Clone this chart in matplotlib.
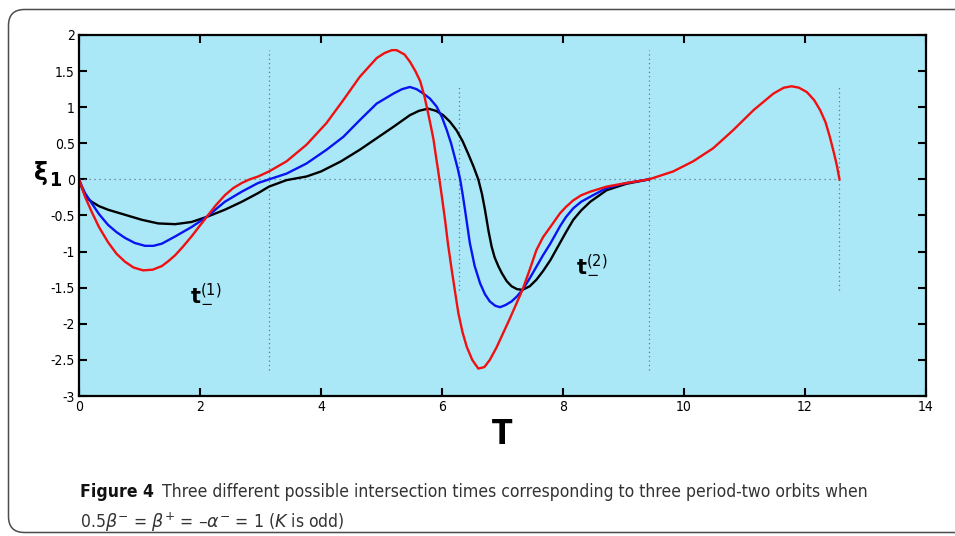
import numpy as np
import matplotlib
matplotlib.use("Agg")
import matplotlib.pyplot as plt
from matplotlib.patches import FancyBboxPatch

# curves read along T for the three period-two orbits
red_t = [0.00, 0.05, 0.10, 0.21, 0.33, 0.48, 0.62, 0.76, 0.90, 1.06, 1.22, 1.37,
         1.48, 1.59, 1.72, 1.86, 1.98, 2.11, 2.26, 2.41, 2.55, 2.69, 2.82, 2.96,
         3.14, 3.43, 3.76, 4.09, 4.37, 4.64, 4.92, 5.05, 5.17, 5.25, 5.38, 5.47,
         5.56, 5.64, 5.71, 5.77, 5.82, 5.86, 5.90, 5.94, 6.00, 6.05, 6.10, 6.16,
         6.22, 6.27, 6.34, 6.41, 6.50, 6.60, 6.70, 6.79, 6.90, 7.01, 7.12, 7.23,
         7.33, 7.45, 7.56, 7.67, 7.79, 7.95, 8.05, 8.17, 8.30, 8.45, 8.72, 9.05,
         9.42, 9.82, 10.15, 10.48, 10.81, 11.15, 11.48, 11.65, 11.78, 11.90, 12.03,
         12.15, 12.25, 12.34, 12.41, 12.48, 12.53, 12.57]
red_xi = [0.00, -0.12, -0.24, -0.45, -0.66, -0.87, -1.03, -1.14, -1.22, -1.26,
          -1.25, -1.20, -1.13, -1.05, -0.93, -0.79, -0.66, -0.52, -0.36, -0.22,
          -0.12, -0.05, 0.00, 0.04, 0.11, 0.25, 0.48, 0.78, 1.10, 1.42, 1.68, 1.75,
          1.79, 1.79, 1.73, 1.63, 1.50, 1.36, 1.15, 0.92, 0.72, 0.55, 0.32, 0.10,
          -0.25, -0.56, -0.90, -1.25, -1.58, -1.85, -2.12, -2.32, -2.50, -2.62,
          -2.60, -2.50, -2.33, -2.13, -1.93, -1.72, -1.53, -1.25, -0.98, -0.80,
          -0.66, -0.47, -0.38, -0.29, -0.22, -0.17, -0.10, -0.05, 0.00, 0.11, 0.25,
          0.43, 0.68, 0.96, 1.19, 1.27, 1.29, 1.27, 1.21, 1.10, 0.96, 0.79, 0.59,
          0.36, 0.18, 0.00]

blue_t = [0.00, 0.05, 0.10, 0.21, 0.33, 0.48, 0.62, 0.76, 0.92, 1.09, 1.23, 1.37,
          1.59, 1.86, 2.11, 2.41, 2.69, 2.96, 3.14, 3.43, 3.76, 4.09, 4.37, 4.64,
          4.92, 5.20, 5.34, 5.47, 5.58, 5.69, 5.80, 5.91, 6.00, 6.08, 6.15, 6.21,
          6.26, 6.30, 6.34, 6.38, 6.42, 6.46, 6.54, 6.63, 6.71, 6.79, 6.88, 6.96,
          7.05, 7.15, 7.24, 7.33, 7.45, 7.56, 7.67, 7.79, 7.95, 8.05, 8.17, 8.30,
          8.45, 8.72, 9.05, 9.42]
blue_xi = [0.00, -0.10, -0.19, -0.33, -0.48, -0.63, -0.73, -0.81, -0.88, -0.92,
           -0.92, -0.89, -0.79, -0.66, -0.52, -0.31, -0.17, -0.05, 0.00, 0.08,
           0.22, 0.41, 0.59, 0.82, 1.05, 1.19, 1.25, 1.28, 1.25, 1.19, 1.12, 1.01,
           0.86, 0.68, 0.50, 0.31, 0.15, 0.00, -0.20, -0.42, -0.65, -0.88, -1.20,
           -1.44, -1.59, -1.69, -1.75, -1.77, -1.74, -1.69, -1.62, -1.53, -1.37,
           -1.21, -1.05, -0.89, -0.65, -0.52, -0.40, -0.31, -0.24, -0.12, -0.05,
           0.00]

black_t = [0.00, 0.05, 0.10, 0.15, 0.21, 0.33, 0.48, 0.76, 1.04, 1.31, 1.59, 1.86,
           2.11, 2.41, 2.69, 2.96, 3.14, 3.43, 3.76, 4.00, 4.33, 4.64, 4.92, 5.20,
           5.47, 5.62, 5.77, 5.90, 6.02, 6.13, 6.24, 6.34, 6.43, 6.52, 6.60, 6.66,
           6.71, 6.77, 6.82, 6.87, 6.93, 6.99, 7.07, 7.15, 7.24, 7.33, 7.45, 7.56,
           7.67, 7.79, 7.87, 7.95, 8.05, 8.17, 8.30, 8.45, 8.72, 9.05, 9.42]
black_xi = [0.00, -0.12, -0.22, -0.27, -0.31, -0.37, -0.42, -0.49, -0.56, -0.61,
            -0.62, -0.59, -0.52, -0.42, -0.31, -0.19, -0.10, -0.01, 0.04, 0.11,
            0.25, 0.41, 0.57, 0.73, 0.89, 0.95, 0.98, 0.95, 0.89, 0.80, 0.68, 0.53,
            0.36, 0.18, 0.00, -0.20, -0.42, -0.72, -0.93, -1.08, -1.20, -1.30,
            -1.41, -1.48, -1.52, -1.53, -1.48, -1.39, -1.27, -1.12, -1.00, -0.88,
            -0.73, -0.56, -0.43, -0.31, -0.15, -0.06, 0.00]

# dotted markers at multiples of pi
guide_t = [np.pi, 2 * np.pi, 3 * np.pi, 4 * np.pi]
guide_lo = [-2.64, -1.53, -2.64, -1.53]
guide_hi = [1.79, 1.28, 1.79, 1.28]

x_ticks = [0, 2, 4, 6, 8, 10, 12, 14]
y_ticks = [-3, -2.5, -2, -1.5, -1, -0.5, 0, 0.5, 1, 1.5, 2]
y_tick_labels = ["-3", "-2.5", "-2", "-1.5", "-1", "-0.5", "0", "0.5", "1", "1.5", "2"]

caption_head = "Figure 4"
caption_1 = "Three different possible intersection times corresponding to three period-two orbits when"
caption_2 = r"0.5$\beta^{-}$ = $\beta^{+}$ = –$\alpha^{-}$ = 1 ($K$ is odd)"

plt.rcParams["mathtext.fontset"] = "dejavusans"
narrow = dict(family="DejaVu Sans", stretch="condensed")

W, H = 955, 536
fig = plt.figure(figsize=(W / 100, H / 100), dpi=100)

# page layer in pixel units: rounded frame and caption
page = fig.add_axes([0, 0, 1, 1], zorder=0)
page.set_xlim(0, W)
page.set_ylim(H, 0)
page.axis("off")
page.add_patch(FancyBboxPatch((8.5, 9.5), 980, 523,
                              boxstyle="round,pad=0,rounding_size=16",
                              fc="white", ec="#4d4d4d", lw=1.1))

ax = fig.add_axes([79 / W, 1 - 396 / H, (926 - 79) / W, (396 - 35) / H], zorder=1)
ax.set_facecolor("#aae8f8")

ax.plot([0, 4 * np.pi], [0, 0], color="#5f7394", lw=0.9, ls=(0, (1, 3)))
for t, lo, hi in zip(guide_t, guide_lo, guide_hi):
    ax.plot([t, t], [lo, hi], color="#5f7394", lw=0.9, ls=(0, (1, 2.5)))

ax.plot(black_t, black_xi, color="black", lw=1.7)
ax.plot(blue_t, blue_xi, color="#0a14f0", lw=1.7)
ax.plot(red_t, red_xi, color="#f01010", lw=1.7)

ax.text(1.83, -1.68, r"$\mathbf{t}_{-}^{(1)}$", fontsize=15, color="black")
ax.text(8.22, -1.27, r"$\mathbf{t}_{-}^{(2)}$", fontsize=15, color="black")

ax.set_xlim(0, 14)
ax.set_ylim(-3, 2)
ax.set_xticks(x_ticks)
ax.set_yticks(y_ticks)
ax.set_yticklabels(y_tick_labels)
ax.tick_params(direction="in", length=6, width=1.5, top=True, right=True,
               labelsize=10, pad=3)
for lab in ax.get_xticklabels() + ax.get_yticklabels():
    lab.set_fontstretch("condensed")
for sp in ax.spines.values():
    sp.set_linewidth(1.6)

page.text(502, 444, "T", fontsize=24, fontweight="bold", ha="center",
          va="baseline", **narrow)
page.text(41, 180, "ξ", fontsize=17, fontweight="bold", ha="center", va="baseline")
page.text(55, 186, "1", fontsize=14, fontweight="bold", ha="center",
          va="baseline", **narrow)

head = page.text(80, 497, caption_head, fontsize=14, fontweight="bold",
                 color="#111111", va="baseline", **narrow)
body = page.text(0, 497, caption_1, fontsize=14, color="#333333", va="baseline", **narrow)
tail = page.text(80, 528, caption_2, fontsize=14, color="#333333", va="baseline", **narrow)

# size the caption so its first line runs to x = 873
fig.canvas.draw()
r = fig.canvas.get_renderer()
span = head.get_window_extent(r).width + 8 + body.get_window_extent(r).width
size = 14 * (873 - 80) / span
for t in (head, body, tail):
    t.set_fontsize(size)
fig.canvas.draw()
body.set_x(80 + head.get_window_extent(r).width + 8)

fig.savefig("out.png", dpi=100)
